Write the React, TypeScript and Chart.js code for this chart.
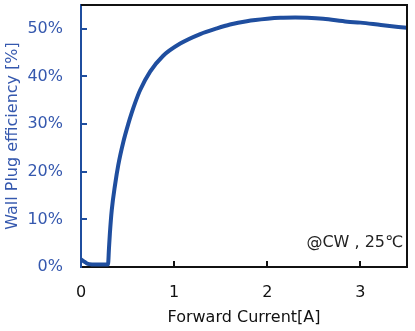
import React, { useEffect, useRef } from "react";
import { Chart, registerables } from "chart.js";

Chart.register(...registerables);

const currentA = [0, 0.03, 0.06, 0.09, 0.15, 0.2, 0.25, 0.29, 0.3, 0.31, 0.33, 0.366, 0.4, 0.455, 0.51, 0.545, 0.58, 0.634, 0.742, 0.88, 1.065, 1.28, 1.46, 1.6, 1.78, 2.0, 2.14, 2.3, 2.43, 2.6, 2.86, 3.0, 3.22, 3.5];
const wpePct = [1.6, 1.2, 0.8, 0.6, 0.5, 0.5, 0.5, 0.5, 3.8, 7.0, 11.9, 17.3, 21.4, 26.3, 30.2, 32.4, 34.4, 37.1, 41.0, 44.3, 46.9, 48.9, 50.1, 50.9, 51.6, 52.1, 52.3, 52.35, 52.3, 52.1, 51.5, 51.3, 50.8, 50.2];
const yTicks = [0, 10, 20, 30, 40, 50];
const xTicks = [0, 1, 2, 3];
const xTitle = "Forward Current[A]";
const yTitle = "Wall Plug efficiency [%]";
const note = "@CW , 25\u2103";

const BLUE = "#1F4E9F";
const LABEL_BLUE = "#3558AE";
const FONT = "'DejaVu Sans', Verdana, sans-serif";

const framePlugin = {
  id: "frame",
  afterDraw(chart: any) {
    const { ctx, chartArea } = chart;
    const { left, right, top, bottom } = chartArea;
    const xs = chart.scales.x;
    const ys = chart.scales.y;
    ctx.save();
    ctx.lineWidth = 2;
    ctx.strokeStyle = BLUE;
    yTicks.forEach((v) => {
      if (v === 0) return;
      const py = Math.round(ys.getPixelForValue(v));
      ctx.beginPath();
      ctx.moveTo(left, py);
      ctx.lineTo(left + 6, py);
      ctx.stroke();
    });
    ctx.strokeStyle = "#111";
    xTicks.forEach((v) => {
      if (v === 0) return;
      const px = Math.round(xs.getPixelForValue(v));
      ctx.beginPath();
      ctx.moveTo(px, bottom);
      ctx.lineTo(px, bottom - 6);
      ctx.stroke();
    });
    ctx.strokeStyle = "#111";
    ctx.lineWidth = 2;
    ctx.beginPath();
    ctx.moveTo(left, top);
    ctx.lineTo(right, top);
    ctx.lineTo(right, bottom);
    ctx.stroke();
    ctx.fillStyle = "#222";
    ctx.font = "16px " + FONT;
    ctx.textAlign = "right";
    ctx.textBaseline = "middle";
    ctx.fillText(note, right - 4, bottom - 24);
    ctx.restore();
  },
};

export default function App() {
  const ref = useRef<HTMLCanvasElement>(null);
  useEffect(() => {
    document.body.style.margin = "0";
    const chart = new Chart(ref.current as HTMLCanvasElement, {
      type: "scatter",
      data: {
        datasets: [
          {
            data: currentA.map((x, i) => ({ x, y: wpePct[i] })),
            showLine: true,
            borderColor: BLUE,
            backgroundColor: BLUE,
            borderWidth: 4,
            pointRadius: 0,
            cubicInterpolationMode: "monotone",
          },
        ],
      },
      options: {
        animation: false,
        responsive: false,
        devicePixelRatio: 1,
        layout: { padding: { left: 0, right: 8, top: 5, bottom: 0 } },
        plugins: { legend: { display: false }, tooltip: { enabled: false } },
        scales: {
          x: {
            type: "linear",
            min: 0,
            max: 3.5,
            grid: { display: false, drawTicks: false },
            border: { display: true, color: "#111", width: 2 },
            ticks: {
              stepSize: 1,
              includeBounds: false,
              color: "#111",
              padding: 16,
              font: { family: FONT, size: 16 },
              callback: (v: any) => (xTicks.includes(Number(v)) ? String(v) : ""),
            },
            title: {
              display: true,
              text: xTitle,
              color: "#111",
              font: { family: FONT, size: 16 },
              padding: { top: 0, bottom: 4 },
            },
            afterFit: (s: any) => {
              s.height = 64;
              s.paddingLeft = 0;
              s.paddingRight = 0;
            },
          },
          y: {
            type: "linear",
            min: 0,
            max: 55,
            grid: { display: false, drawTicks: false },
            border: { display: true, color: BLUE, width: 2 },
            ticks: {
              stepSize: 10,
              includeBounds: false,
              color: LABEL_BLUE,
              padding: 18,
              font: { family: FONT, size: 16 },
              callback: (v: any) => (yTicks.includes(Number(v)) ? v + "%" : ""),
            },
            title: {
              display: true,
              text: yTitle,
              color: LABEL_BLUE,
              font: { family: FONT, size: 16 },
              padding: { top: 3, bottom: 0 },
            },
            afterFit: (s: any) => {
              s.width = 81;
              s.paddingTop = 0;
              s.paddingBottom = 0;
            },
          },
        },
      },
      plugins: [framePlugin],
    } as any);
    return () => chart.destroy();
  }, []);
  return (
    <div style={{ width: 415, height: 331 }}>
      <canvas ref={ref} width={415} height={331} />
    </div>
  );
}
